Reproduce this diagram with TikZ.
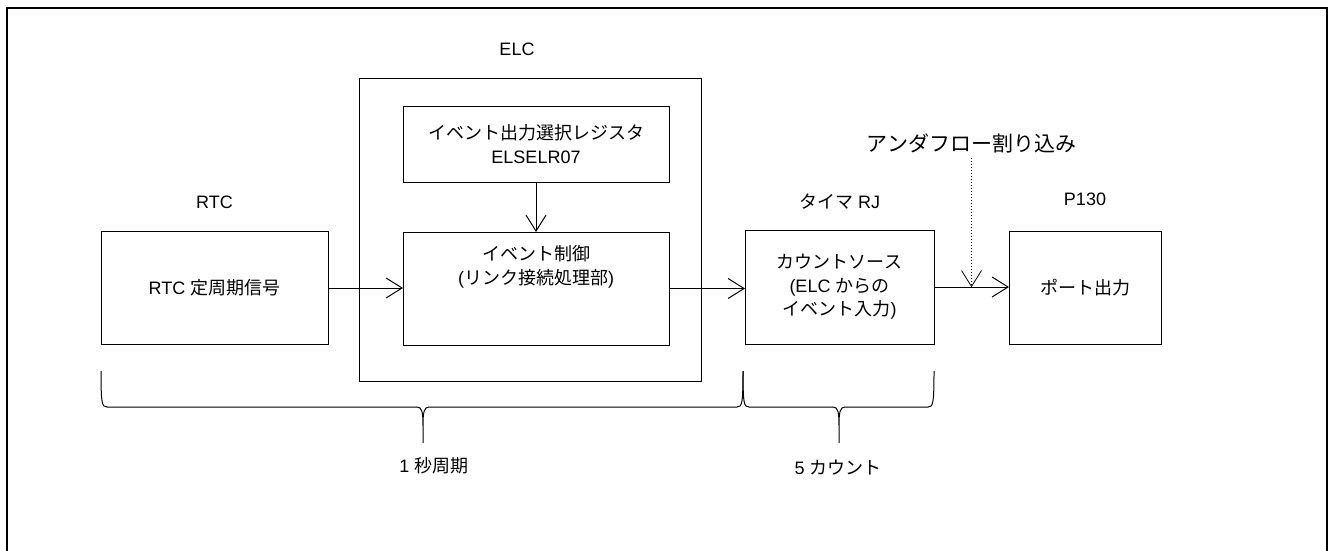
\documentclass[tikz,border=0pt]{standalone}
\usepackage{fontspec}
\setmainfont{Liberation Sans}
\newfontfamily\jp{Noto Sans CJK JP}
\usetikzlibrary{arrows.meta}
\usetikzlibrary{positioning}
\usetikzlibrary{calc}

\begin{document}
\begin{tikzpicture}[
    x=1pt, y=-1pt,
    box/.style={
        draw, line width=1pt,
        inner sep=0pt, outer sep=0pt,
        font=\fontsize{18}{23.5}\selectfont,
        align=center
    },
    lbl/.style={
        inner sep=0pt, outer sep=0pt,
        font=\fontsize{18}{23.5}\selectfont,
        align=center
    },
    sig/.style={-{Straight Barb[length=16pt,width=20pt]}, line width=1pt}
]
\useasboundingbox (0,0) rectangle (1328,551);
\draw[line width=2pt] (6.7,551) -- (6.7,8.3) -- (1327,8.3) -- (1327,551);

% blocks
\node[box, minimum width=227pt, minimum height=113pt] (rtc) at (214.5,288) {RTC {\jp 定周期信号}};
\node[box, minimum width=342pt, minimum height=302pt] (elc) at (530,230) {};
\node[box, minimum width=266pt, minimum height=76pt] (sel) at (536,144) {{\jp イベント出力選択レジスタ}\\ELSELR07};
\node[box, minimum width=266pt, minimum height=113pt] (ctrl) at (536,288.5) {};
\node[lbl] (ctrltxt) at (536,267) {{\jp イベント制御}\\({\jp リンク接続処理部})};
\node[box, minimum width=189pt, minimum height=114pt] (timer) at (839.5,287) {{\jp カウントソース}\\(ELC {\jp からの}\\{\jp イベント入力})};
\node[box, minimum width=152pt, minimum height=113pt] (port) at (1085,287.5) {{\jp ポート出力}};

% block titles
\node[lbl, above=22.5pt of rtc] (rtclbl) {RTC};
\node[lbl, above=23.5pt of elc, xshift=-13pt] (elclbl) {ELC};
\node[lbl, above=21pt of timer] (timerlbl) {{\jp タイマ} RJ};
\node[lbl, above=25.5pt of port] (portlbl) {P130};

% signal flow
\draw[sig] (rtc.east) -- (rtc.east -| ctrl.west);
\draw[sig] (sel) -- (ctrl);
\draw[sig] (ctrl.east) -- (ctrl.east -| timer.west);
\draw[sig] (timer.east) -- (timer.east -| port.west);

% underflow interrupt
\coordinate (uf) at ($(timer.east)!0.5!(port.west)$);
\node[lbl, font=\fontsize{21}{24}\selectfont] (under) at ($(uf)+(0,-144)$) {{\jp アンダフロー割り込み}};
\draw[sig, dotted, line width=0.8pt, shorten <=5pt] (under.south) -- (uf);

% braces
\foreach \xa/\xm/\xb in {101/423/743, 743/839/934}
  \draw[line width=1pt] (\xa,371) .. controls (\xa,404) and (\xa+1,407) .. (\xa+6,407)
    -- (\xm-6,407) .. controls (\xm-1,407) and (\xm,412) .. (\xm,426) -- (\xm,443)
    -- (\xm,426) .. controls (\xm,412) and (\xm+1,407) .. (\xm+6,407)
    -- (\xb-6,407) .. controls (\xb-1,407) and (\xb,404) .. (\xb,371);
\node[lbl] (period) at (434,466) {1 {\jp 秒周期}};
\node[lbl] (count) at (838,468) {5 {\jp カウント}};
\end{tikzpicture}
\end{document}
